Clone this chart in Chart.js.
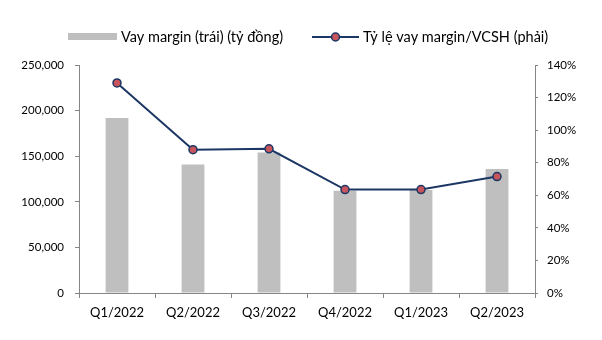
<!DOCTYPE html>
<html>
<head>
<meta charset="utf-8">
<script src="https://cdn.jsdelivr.net/npm/chart.js@4.4.1/dist/chart.umd.min.js"></script>
<style>
  html, body { margin: 0; padding: 0; background: #fff; }
  #wrap { width: 602px; height: 340px; }
</style>
</head>
<body>
<div id="wrap"><canvas id="chart" width="602" height="340"></canvas></div>
<script>
// data
const quarters = ["Q1/2022", "Q2/2022", "Q3/2022", "Q4/2022", "Q1/2023", "Q2/2023"];
const marginLoans = [192000, 141000, 154000, 112000, 113000, 136000]; // tỷ đồng
const marginToEquity = [129, 88, 88.5, 63.5, 63.5, 71.5]; // %

const leftTicks = [0, 50000, 100000, 150000, 200000, 250000];
const rightTicks = [0, 20, 40, 60, 80, 100, 120, 140];

const barLabel = "Vay margin (trái) (tỷ đồng)";
const lineLabel = "Tỷ lệ vay margin/VCSH (phải)";

const FONT = "Lato, 'Open Sans', sans-serif";
const AXIS = "#868686";
const BAR = "#bfbfbf";
const NAVY = "#1c3764";
const DOT = "#c8545c";

// legend drawn by hand so it can sit where the original puts it
const legendPlugin = {
  id: "manualLegend",
  afterDraw(chart) {
    const ctx = chart.ctx;
    const y = 37;
    ctx.save();
    ctx.fillStyle = BAR;
    ctx.fillRect(68, 33, 49, 7);

    ctx.strokeStyle = NAVY;
    ctx.lineWidth = 2;
    ctx.beginPath();
    ctx.moveTo(312, y);
    ctx.lineTo(359, y);
    ctx.stroke();
    ctx.beginPath();
    ctx.arc(335.5, y, 4, 0, Math.PI * 2);
    ctx.fillStyle = DOT;
    ctx.fill();
    ctx.lineWidth = 1.5;
    ctx.stroke();

    ctx.fillStyle = "#000";
    ctx.font = "14.5px " + FONT;
    ctx.textBaseline = "middle";
    ctx.fillText(barLabel, 121, y);
    ctx.fillText(lineLabel, 363, y);
    ctx.restore();
  }
};

new Chart(document.getElementById("chart"), {
  type: "bar",
  data: {
    labels: quarters,
    datasets: [
      {
        type: "line",
        label: lineLabel,
        data: marginToEquity,
        yAxisID: "y1",
        borderColor: NAVY,
        borderWidth: 2,
        pointRadius: 4,
        pointBorderWidth: 1.5,
        pointBackgroundColor: DOT,
        pointBorderColor: NAVY,
        tension: 0,
        order: 0
      },
      {
        label: barLabel,
        data: marginLoans,
        yAxisID: "y",
        backgroundColor: BAR,
        barPercentage: 0.3,
        categoryPercentage: 1,
        order: 1
      }
    ]
  },
  options: {
    responsive: false,
    animation: false,
    layout: { padding: { top: 65, left: 0, right: 0, bottom: 0 } },
    plugins: {
      legend: { display: false },
      tooltip: { enabled: false }
    },
    scales: {
      x: {
        offset: true,
        grid: { drawOnChartArea: false, drawTicks: true, tickLength: 5, color: AXIS, offset: true },
        border: { color: AXIS, width: 1 },
        ticks: { color: "#000", font: { family: FONT, size: 13 }, padding: 7, maxRotation: 0 },
        afterFit: (s) => { s.height = 47; }
      },
      y: {
        position: "left",
        min: 0,
        max: 250000,
        afterBuildTicks: (s) => { s.ticks = leftTicks.map(v => ({ value: v })); },
        grid: { drawOnChartArea: false, drawTicks: true, tickLength: 4, color: AXIS },
        border: { color: AXIS, width: 1 },
        ticks: {
          color: "#000",
          font: { family: FONT, size: 11.5 },
          padding: 11,
          callback: (v) => v.toLocaleString("en-US")
        },
        afterFit: (s) => { s.width = 79; }
      },
      y1: {
        position: "right",
        min: 0,
        max: 140,
        afterBuildTicks: (s) => { s.ticks = rightTicks.map(v => ({ value: v })); },
        grid: { drawOnChartArea: false, drawTicks: true, tickLength: 3, color: AXIS },
        border: { color: AXIS, width: 1 },
        ticks: {
          color: "#000",
          font: { family: FONT, size: 11.5 },
          padding: 9,
          callback: (v) => v + "%"
        },
        afterFit: (s) => { s.width = 67; }
      }
    }
  },
  plugins: [legendPlugin]
});
</script>
</body>
</html>
